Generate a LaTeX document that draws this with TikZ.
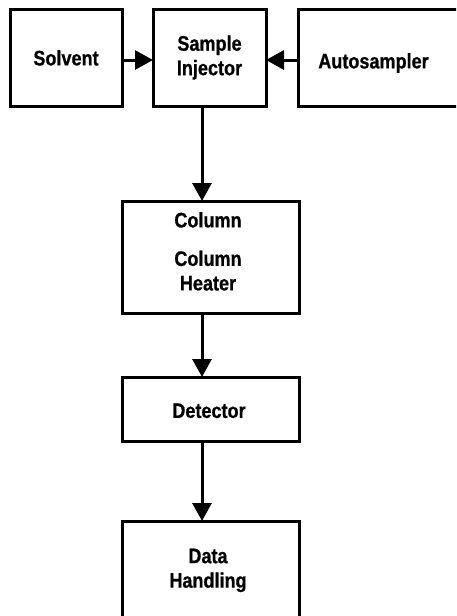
\documentclass[tikz,border=0pt]{standalone}
\usepackage{fontspec}
\setmainfont{Liberation Sans}[FakeStretch=0.86, BoldFeatures={FakeBold=0.7}]
\usetikzlibrary{arrows.meta,positioning}
% move a label up or down inside its box
\newcommand{\nudge}[2]{\raisebox{#1}[\height][\depth]{\begin{tabular}{@{}c@{}}#2\end{tabular}}}

\begin{document}
\begin{tikzpicture}[
    x=1pt, y=-1pt,
    block/.style={rectangle, draw, line width=3pt, outer sep=0pt, inner sep=0pt,
        font=\fontsize{21}{24.5}\selectfont\bfseries, align=center},
    arrow/.style={-{Triangle[length=18pt, width=19pt]}, line width=3pt}
]
\clip (0,0) rectangle (456,616);
\fill[white] (0,0) rectangle (456,616);

% Top row
\node[block, minimum width=112pt, minimum height=97pt] (solvent) at (66,57.5) {\nudge{-3pt}{Solvent}};
\node[block, minimum width=113pt, minimum height=97pt, right=31pt of solvent] (injector) {Sample\\Injector};
\node[block, minimum width=160pt, minimum height=97pt, right=32pt of injector] (autosampler) {\hspace*{-9pt}\nudge{-6pt}{Autosampler}};

% Main column
\node[block, minimum width=177pt, minimum height=112pt, below=95pt of injector, xshift=1pt] (column) {\hspace*{-5pt}\nudge{3pt}{Column\\[14pt]Column\\Heater}};
\node[block, minimum width=177pt, minimum height=64pt, below=64pt of column] (detector) {\hspace*{-3pt}\nudge{-4pt}{Detector}};
\node[block, minimum width=177pt, minimum height=99pt, below=80pt of detector] (data) {\hspace*{-5pt}\nudge{0pt}{Data\\Handling}};

% Arrows
\draw[arrow] ([yshift=-2.5pt]solvent.east) -- ([yshift=-2.5pt]injector.west);
\draw[arrow] ([yshift=-2.5pt]autosampler.west) -- ([yshift=-2.5pt]injector.east);
\draw[arrow] ([xshift=-7.5pt]injector.south) -- ([xshift=-8.5pt]column.north);
\draw[arrow] ([xshift=-8.5pt]column.south) -- ([xshift=-8.5pt]detector.north);
\draw[arrow] ([xshift=-8.5pt]detector.south) -- ([xshift=-8.5pt]data.north);

\end{tikzpicture}
\end{document}
